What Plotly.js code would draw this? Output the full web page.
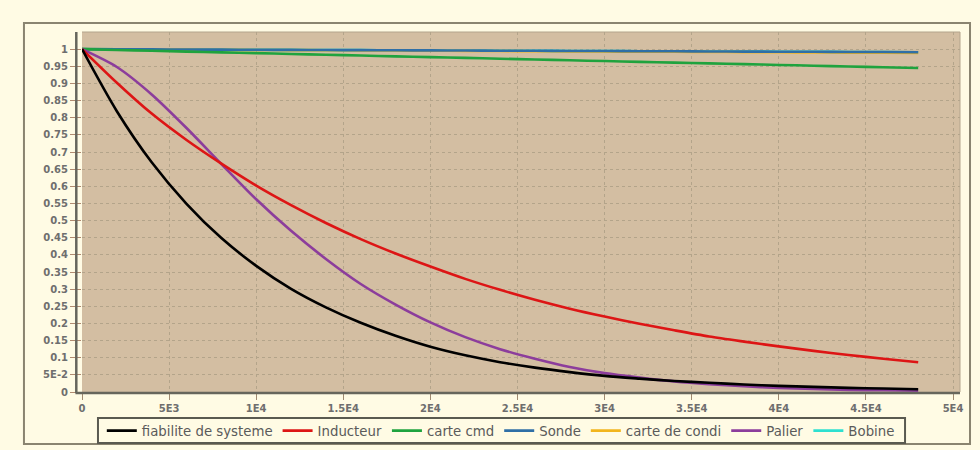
<!DOCTYPE html>
<html>
<head>
<meta charset="utf-8">
<script src="https://cdn.plot.ly/plotly-3.0.1.min.js"></script>
<style>
  html, body { margin: 0; padding: 0; background: #FFFBE4; }
  #chart { width: 980px; height: 450px; }
</style>
</head>
<body>
<div id="chart"></div>
<script>
// Time (hours)
const t = [0, 2000, 4000, 6000, 8000, 10000, 12000, 14000, 16000, 18000, 20000, 22000, 24000,
           26000, 28000, 30000, 32000, 34000, 36000, 38000, 40000, 42000, 44000, 46000, 48000];

// Reliability curves
const fiabiliteSysteme = [1, 0.819, 0.670, 0.549, 0.449, 0.368, 0.301, 0.247, 0.202, 0.164, 0.132, 0.107,
                          0.087, 0.071, 0.058, 0.047, 0.039, 0.032, 0.027, 0.022, 0.018, 0.015, 0.012, 0.010, 0.008];
const inducteur = [1, 0.902, 0.812, 0.735, 0.666, 0.602, 0.545, 0.493, 0.446, 0.404, 0.366, 0.330,
                   0.298, 0.269, 0.243, 0.220, 0.199, 0.180, 0.162, 0.147, 0.133, 0.120, 0.108, 0.097, 0.087];
const carteCmd = [1, 0.9976, 0.9953, 0.9929, 0.9906, 0.9883, 0.9859, 0.9836, 0.9813, 0.9790, 0.9767, 0.9744,
                  0.9721, 0.9698, 0.9675, 0.9652, 0.9629, 0.9607, 0.9584, 0.9562, 0.9539, 0.9517, 0.9494, 0.9472, 0.9452];
const sonde = [1, 0.9996, 0.9993, 0.9989, 0.9985, 0.9981, 0.9978, 0.9974, 0.9970, 0.9966, 0.9963, 0.9959,
               0.9955, 0.9951, 0.9948, 0.9944, 0.9940, 0.9937, 0.9933, 0.9929, 0.9926, 0.9922, 0.9918, 0.9915, 0.9911];
const carteCondi = [1, 0.9995, 0.9991, 0.9986, 0.9982, 0.9977, 0.9972, 0.9968, 0.9963, 0.9959, 0.9954, 0.9949,
                    0.9945, 0.9940, 0.9936, 0.9931, 0.9926, 0.9922, 0.9917, 0.9913, 0.9908, 0.9903, 0.9899, 0.9894, 0.9890];
const palier = [1, 0.948, 0.868, 0.770, 0.665, 0.562, 0.470, 0.388, 0.315, 0.255, 0.203, 0.160,
                0.125, 0.097, 0.073, 0.055, 0.042, 0.031, 0.023, 0.017, 0.012, 0.009, 0.006, 0.005, 0.004];
const bobine = [1, 0.9996, 0.9993, 0.9989, 0.9985, 0.9981, 0.9978, 0.9974, 0.9970, 0.9966, 0.9963, 0.9959,
                0.9955, 0.9951, 0.9948, 0.9944, 0.9940, 0.9937, 0.9933, 0.9929, 0.9926, 0.9922, 0.9918, 0.9915, 0.9911];

// Axis ticks
const xTickVals = [0, 5000, 10000, 15000, 20000, 25000, 30000, 35000, 40000, 45000, 50000];
const xTickText = ["0", "5E3", "1E4", "1.5E4", "2E4", "2.5E4", "3E4", "3.5E4", "4E4", "4.5E4", "5E4"];
const yTickVals = [0, 0.05, 0.1, 0.15, 0.2, 0.25, 0.3, 0.35, 0.4, 0.45, 0.5, 0.55, 0.6, 0.65, 0.7,
                   0.75, 0.8, 0.85, 0.9, 0.95, 1];
const yTickText = ["0", "5E-2", "0.1", "0.15", "0.2", "0.25", "0.3", "0.35", "0.4", "0.45", "0.5", "0.55",
                   "0.6", "0.65", "0.7", "0.75", "0.8", "0.85", "0.9", "0.95", "1"];

function tr(name, y, color, rank) {
  return {
    x: t, y: y, name: name, type: 'scatter', mode: 'lines',
    line: { color: color, width: 2.6, shape: 'spline', smoothing: 0.8 },
    legendrank: rank, hoverinfo: 'skip'
  };
}

// Draw order (bottom to top) differs from legend order
const data = [
  tr('Bobine', bobine, '#2ee0d0', 7),
  tr('carte de condi', carteCondi, '#f2b51c', 5),
  tr('Sonde', sonde, '#2f6fa6', 4),
  tr('carte cmd', carteCmd, '#1fa33e', 3),
  tr('Palier', palier, '#8c3d9c', 6),
  tr('Inducteur', inducteur, '#dd1515', 2),
  tr('fiabilite de systeme', fiabiliteSysteme, '#000000', 1)
];

const gridCol = '#b3a48a';
const tickFont = { family: 'DejaVu Sans', size: 10, color: '#6e6e6e', weight: 'bold' };

const layout = {
  width: 980, height: 450,
  paper_bgcolor: '#FFFBE4',
  plot_bgcolor: '#D3BEA2',
  margin: { l: 82, r: 20, t: 32, b: 58, autoexpand: false },
  showlegend: true,
  legend: {
    orientation: 'h',
    x: 0.477, xanchor: 'center', y: -0.1083, yanchor: 'middle',
    bgcolor: 'rgba(0,0,0,0)', borderwidth: 0,
    font: { family: 'DejaVu Sans', size: 13.3, color: '#5a5a5a' },
    itemwidth: 30, tracegroupgap: 0, traceorder: 'normal'
  },
  xaxis: {
    range: [0, 50400], tickvals: xTickVals, ticktext: xTickText,
    showgrid: true, gridcolor: gridCol, griddash: 'dot', gridwidth: 1,
    zeroline: false, showline: false, automargin: false,
    ticks: 'outside', ticklen: 7, tickcolor: '#a08a70', tickwidth: 1,
    tickfont: tickFont
  },
  yaxis: {
    range: [0, 1.05], tickvals: yTickVals, ticktext: yTickText,
    showgrid: true, gridcolor: gridCol, griddash: 'dot', gridwidth: 1,
    zeroline: false, showline: false, automargin: false,
    ticks: 'outside', ticklen: 11, tickcolor: '#b08a70', tickwidth: 1,
    tickfont: tickFont
  },
  shapes: [
    // outer frame
    { type: 'rect', xref: 'paper', yref: 'paper', x0: -0.0661, x1: 1.0114, y0: -0.1445, y1: 1.025,
      line: { color: '#8a8470', width: 2 }, fillcolor: 'rgba(0,0,0,0)', layer: 'below' },
    // legend box
    { type: 'rect', xref: 'paper', yref: 'paper', x0: 0.0182, x1: 0.9374, y0: -0.1417, y1: -0.0722,
      line: { color: '#5a5a50', width: 2 }, fillcolor: '#FFFBE4', layer: 'below' },
    // y axis line (offset left of plot)
    { type: 'line', xref: 'paper', yref: 'paper', x0: -0.0065, x1: -0.0065, y0: -0.003, y1: 1.0,
      line: { color: '#66665c', width: 2.5 }, layer: 'above' },
    // x axis line
    { type: 'line', xref: 'paper', yref: 'paper', x0: -0.0075, x1: 1.0, y0: -0.003, y1: -0.003,
      line: { color: '#66665c', width: 2.5 }, layer: 'above' },
    // plot border top/right
    { type: 'line', xref: 'paper', yref: 'paper', x0: 0, x1: 1, y0: 1, y1: 1,
      line: { color: '#b3a48c', width: 1 }, layer: 'above' },
    { type: 'line', xref: 'paper', yref: 'paper', x0: 1, x1: 1, y0: 0, y1: 1,
      line: { color: '#b3a48c', width: 1 }, layer: 'above' }
  ]
};

Plotly.newPlot('chart', data, layout, { displayModeBar: false, staticPlot: true });
</script>
</body>
</html>
